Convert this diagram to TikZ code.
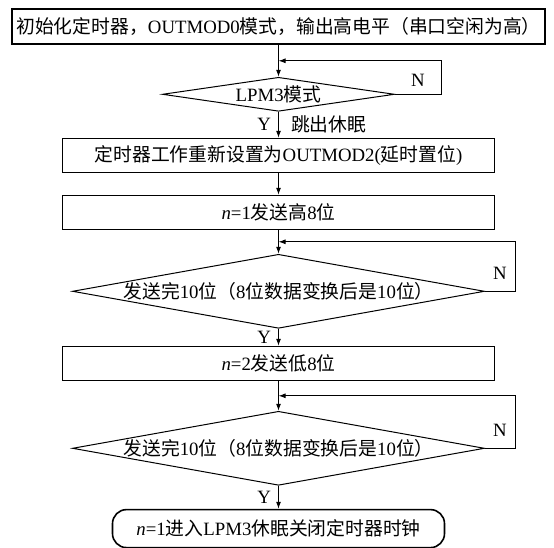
\documentclass[tikz,border=0pt]{standalone}
\usepackage{fontspec}
\setmainfont{Liberation Serif}
\newfontfamily\zhfont{Noto Sans CJK SC}
\newcommand{\zh}[1]{{\zhfont #1}}
\usetikzlibrary{arrows.meta, positioning, shapes.geometric, calc}
\tikzset{box/.style={rectangle,draw,line width=1pt,inner sep=0pt,minimum width=432pt,minimum height=34pt,align=center},
cond/.style={diamond,draw,line width=1pt,inner sep=-5pt,aspect=5.6},
line/.style={-{Latex[length=7pt,width=5pt]},line width=1pt},
lbl/.style={inner sep=0pt}}

\begin{document}
\begin{tikzpicture}[x=1pt,y=-1pt,font=\fontsize{18.8}{22}\selectfont]
\useasboundingbox (0,0) rectangle (554,548);
\node[box,minimum width=533pt,minimum height=35pt,line width=1.6pt] (init) at (278.5,26.5) {\zh{初始化定时器，}OUTMOD0\zh{模式，输出高电平（串口空闲为高）}};
\node[cond,minimum width=232pt,minimum height=34pt,below=32pt of init] (lpm) {LPM3\zh{模式}};
\node[box,below=26pt of lpm] (reset) {\zh{定时器工作重新设置为}OUTMOD2(\zh{延时置位})};
\node[box,below=22pt of reset] (hi) {\textit{n}=1\zh{发送高}8\zh{位}};
\node[cond,minimum width=412pt,minimum height=74pt,below=24pt of hi] (chka) {\zh{发送完}10\zh{位（}8\zh{位数据变换后是}10\zh{位）}};
\node[box,below=17pt of chka] (lo) {\textit{n}=2\zh{发送低}8\zh{位}};
\node[cond,minimum width=412pt,minimum height=74pt,below=30pt of lo] (chkb) {\zh{发送完}10\zh{位（}8\zh{位数据变换后是}10\zh{位）}};
\node[box,rounded corners=14pt,minimum width=332pt,minimum height=38pt,line width=1.6pt,below=23pt of chkb] (stop) {\textit{n}=1\zh{进入}LPM3\zh{休眠关闭定时器时钟}};
\coordinate (ma) at ($(init.south)!.5!(lpm.north)$);
\coordinate (mb) at ($(hi.south)!.5!(chka.north)$);
\coordinate (mc) at ($(lo.south)!.5!(chkb.north)$);
\draw[line] (init) -- (lpm);
\draw[line] (lpm.east) -- node[lbl,above=7pt] (na) {N} ++(46,0) |- (ma);
\draw[line] (lpm) -- node[lbl,left=7pt] (ya) {Y} node[lbl,right=12pt] (jump) {\zh{跳出休眠}} (reset);
\draw[line] (reset) -- (hi);
\draw[line] (hi) -- (chka);
\draw[line] (chka.east) -- node[lbl,above=11pt] (nb) {N} ++(30,0) |- (mb);
\draw[line] (chka) -- node[lbl,left=7pt] (yb) {Y} (lo);
\draw[line] (lo) -- (chkb);
\draw[line] (chkb.east) -- node[lbl,above=11pt] (nc) {N} ++(30,0) |- (mc);
\draw[line] (chkb) -- node[lbl,left=7pt] (yc) {Y} (stop);
\end{tikzpicture}
\end{document}
